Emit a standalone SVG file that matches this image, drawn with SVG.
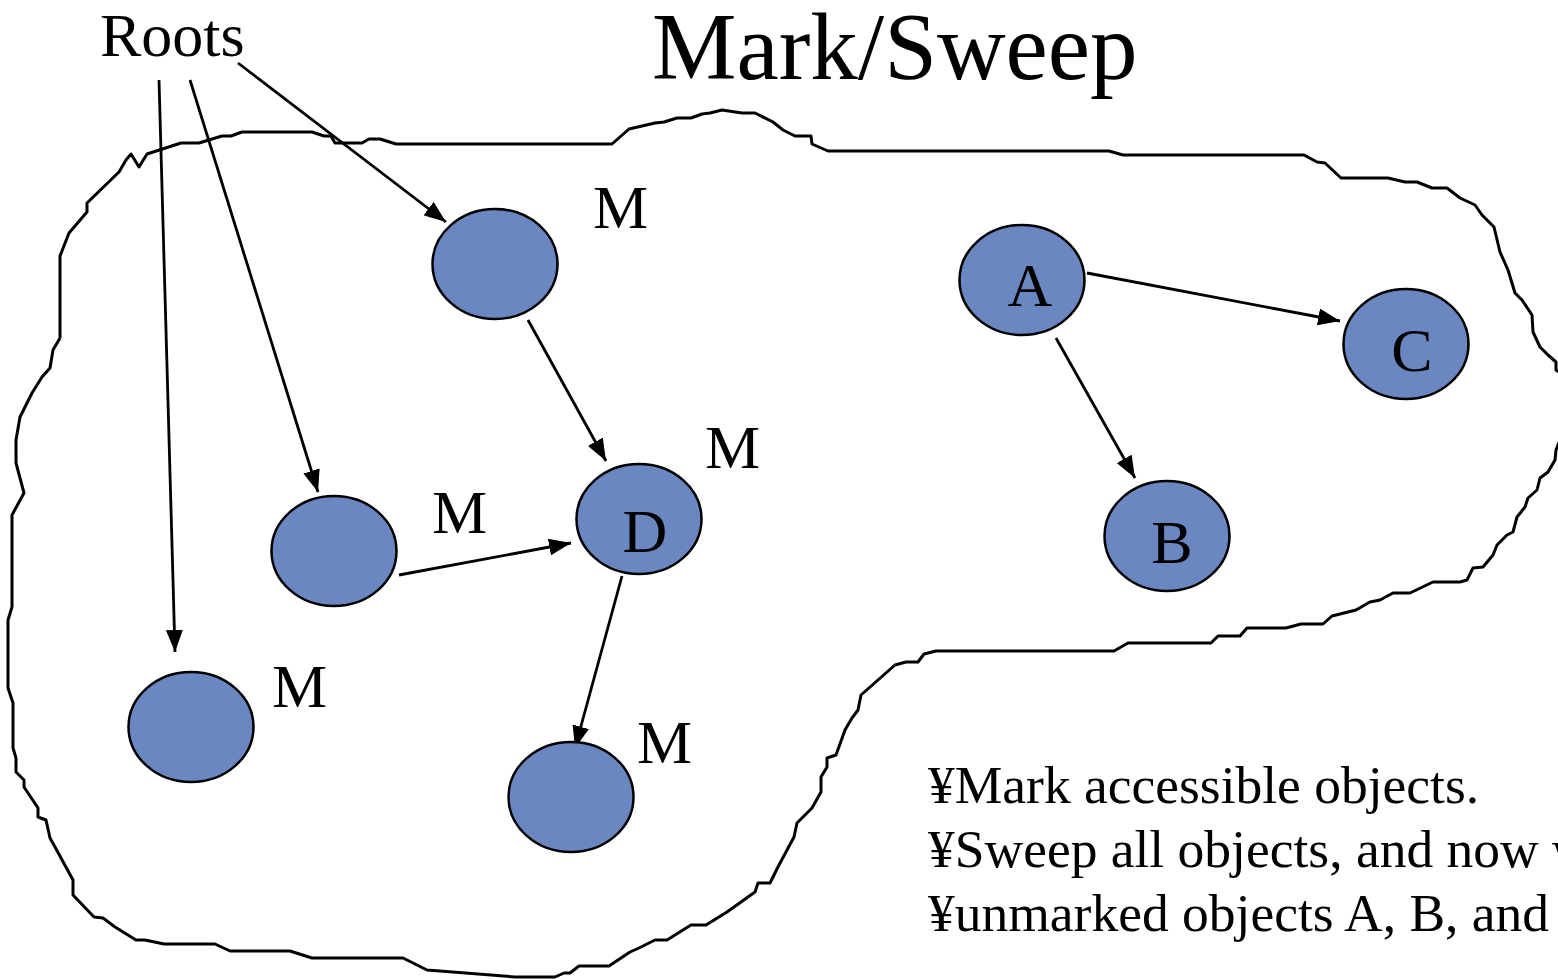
<svg xmlns="http://www.w3.org/2000/svg" width="1558" height="979" viewBox="0 0 1558 979">
  <style>
    .t { font-family: "Liberation Serif", "Times New Roman", serif; fill: #000; }
    .obj { fill: #6B87C2; stroke: #000; stroke-width: 2.5; }
    .lbl { font-size: 62px; text-anchor: middle; }
    .mk { font-size: 62px; }
    .edge { stroke: #000; stroke-width: 2.8; fill: none; marker-end: url(#arrow); }
    .heap { fill: none; stroke: #000; stroke-width: 3; stroke-linejoin: round; }
  </style>
  <defs>
    <marker id="arrow" viewBox="0 0 22 17" refX="22" refY="8.5" markerWidth="22" markerHeight="17" markerUnits="userSpaceOnUse" orient="auto">
      <path d="M0,0 L22,8.5 L0,17 Z" fill="#000"/>
    </marker>
  </defs>
  <rect width="1558" height="979" fill="#fff"/>

  <!-- heap boundary -->
  <g id="heap">
    <polyline class="heap" points="60,338 60,256 69,233 87,212 87,203 119,172 126,160 131,154 139,167 147,154 181,143 199,143 222,136 231,136 242,132 312,132 324,136 331,136 335,143 362,143 369,139 380,139 396,144 612,144 629,129 655,123 664,122 677,118 691,118 702,114 710,113 722,110 742,113 755,113 773,122 783,130 795,136 811,136 812,144 828,151 1109,151 1123,155 1304,155 1317,162 1325,163 1341,178 1388,178 1405,182 1417,182 1432,188 1447,188 1460,198 1475,205 1482,215 1494,227 1500,252 1508,270 1515,293 1522,300 1532,315 1533,332 1540,347 1548,355 1556,362 1556,370 1562,374 1562,435 1556,450 1555,460 1548,472 1540,478 1537,490 1528,498 1525,507 1517,517 1513,532 1507,535 1497,545 1493,555 1483,567 1473,568 1467,580 1460,582 1433,582 1410,593 1393,593 1380,600 1370,602 1356,610 1332,616 1323,624 1301,624 1286,628 1247,628 1240,636 1218,636 1211,643 1128,643 1114,651 936,651 924,654 918,662 906,662 895,665 861,695 858,710 852,718 845,730 836,755 827,758 827,767 821,777 821,792 812,808 797,823 794,837 779,865 770,883 758,883 755,892 727,912 706,925 691,925 667,940 655,940 639,948 630,952 609,966 579,966 570,973 564,973 555,977 515,977 427,970 403,958 312,958 290,951 230,951 215,944 164,944 145,940 136,940 115,927 103,918 94,917 73,895 73,880 55,847 50,838 46,820 38,817 38,808 24,787 24,780 16,772 16,758 13,748 13,703 8,688 8,620 12,607 12,515 24,493 16,463 16,440 20,417 32,393 42,377 50,368 53,350 60,338"/>
  </g>

  <!-- titles -->
  <g id="title"><text class="t" x="652" y="79" font-size="95">Mark/Sweep</text></g>
  <g id="roots"><text class="t" x="100" y="56" font-size="62">Roots</text></g>

  <!-- reference edges -->
  <g id="connectors">
    <line class="edge" x1="159" y1="80" x2="175" y2="652" stroke-width="2.2"/>
    <line class="edge" x1="190" y1="80" x2="318" y2="492" stroke-width="2.2"/>
    <line class="edge" x1="238" y1="63" x2="446" y2="222"/>
    <line class="edge" x1="528" y1="320" x2="606" y2="461"/>
    <line class="edge" x1="399" y1="575" x2="571" y2="543"/>
    <line class="edge" x1="622" y1="576" x2="575" y2="748"/>
    <line class="edge" x1="1087" y1="273" x2="1340" y2="321"/>
    <line class="edge" x1="1056" y1="338" x2="1135" y2="478"/>
  </g>

  <!-- marked objects -->
  <g id="obj-top">
    <ellipse class="obj" cx="495" cy="264" rx="62.5" ry="55"/>
    <text class="t mk" x="593" y="228">M</text>
  </g>
  <g id="obj-mid">
    <ellipse class="obj" cx="334" cy="551" rx="62.5" ry="55"/>
    <text class="t mk" x="432" y="533">M</text>
  </g>
  <g id="obj-D">
    <ellipse class="obj" cx="639" cy="519" rx="62.5" ry="55"/>
    <text class="t lbl" x="645" y="552">D</text>
    <text class="t mk" x="705" y="468">M</text>
  </g>
  <g id="obj-left">
    <ellipse class="obj" cx="191" cy="727" rx="62.5" ry="55"/>
    <text class="t mk" x="272" y="707">M</text>
  </g>
  <g id="obj-bottom">
    <ellipse class="obj" cx="571" cy="797" rx="62.5" ry="55"/>
    <text class="t mk" x="637" y="763">M</text>
  </g>

  <!-- unmarked objects -->
  <g id="obj-A">
    <ellipse class="obj" cx="1022" cy="280" rx="62.5" ry="55"/>
    <text class="t lbl" x="1030" y="306">A</text>
  </g>
  <g id="obj-C">
    <ellipse class="obj" cx="1406" cy="344" rx="62.5" ry="55"/>
    <text class="t lbl" x="1412" y="371">C</text>
  </g>
  <g id="obj-B">
    <ellipse class="obj" cx="1167" cy="536" rx="62.5" ry="55"/>
    <text class="t lbl" x="1172" y="563">B</text>
  </g>

  <!-- notes -->
  <g id="notes" class="t" font-size="53.5">
    <text x="928" y="803">¥Mark accessible objects.</text>
    <text x="928" y="867">¥Sweep all objects, and now w</text>
    <text x="928" y="931">¥unmarked objects A, B, and</text>
  </g>
</svg>
